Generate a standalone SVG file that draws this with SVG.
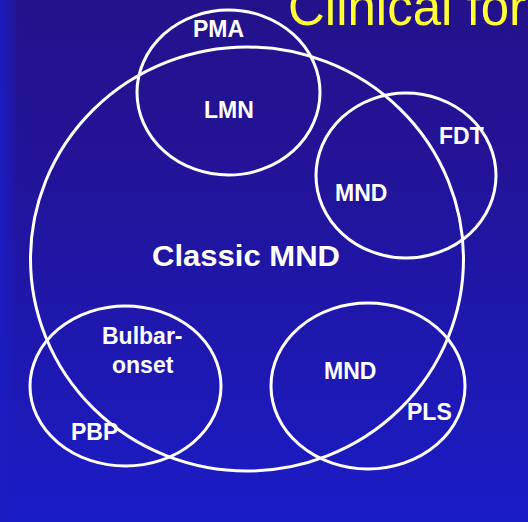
<svg xmlns="http://www.w3.org/2000/svg" width="528" height="522" viewBox="0 0 528 522">
<defs>
<linearGradient id="bg" x1="0" y1="0" x2="0" y2="1">
<stop offset="0" stop-color="#23128a"/>
<stop offset="0.35" stop-color="#22149a"/>
<stop offset="1" stop-color="#1a1cc6"/>
</linearGradient>
<linearGradient id="edge" x1="0" y1="0" x2="1" y2="0">
<stop offset="0" stop-color="#1c1cc0" stop-opacity="1"/>
<stop offset="0.5" stop-color="#1c1cc0" stop-opacity="0.6"/>
<stop offset="1" stop-color="#1c1cc0" stop-opacity="0"/>
</linearGradient>
<style>
.c{fill:none;stroke:#ffffff;stroke-width:3}
.t{fill:#ffffff;font-family:"Liberation Sans",Arial,sans-serif;font-weight:bold;font-size:23px}
.title{fill:#ffff33;font-family:"Liberation Sans",Arial,sans-serif;font-size:51px}
</style>
</defs>
<rect width="528" height="522" fill="url(#bg)"/>
<rect width="18" height="522" fill="url(#edge)"/>
<text class="title" x="288" y="25">Clinical for</text>
<g id="connectors"></g>
<g id="classic"><ellipse class="c" cx="247" cy="259" rx="216.5" ry="212"/><text class="t" x="152" y="266" style="font-size:29px" textLength="188" lengthAdjust="spacingAndGlyphs">Classic MND</text></g>
<g id="pma"><ellipse class="c" cx="228.5" cy="92.5" rx="91.5" ry="82.5"/><text class="t" x="193" y="37">PMA</text><text class="t" x="204" y="118">LMN</text></g>
<g id="fdt"><ellipse class="c" cx="406" cy="175.5" rx="90" ry="82.5"/><text class="t" x="439" y="144">FDT</text><text class="t" x="335" y="201">MND</text></g>
<g id="bulbar"><ellipse class="c" cx="125.5" cy="386" rx="95.5" ry="80"/><text class="t" x="102" y="344">Bulbar-</text><text class="t" x="112" y="373">onset</text><text class="t" x="71" y="440">PBP</text></g>
<g id="pls"><ellipse class="c" cx="368" cy="386" rx="97" ry="83"/><text class="t" x="324" y="379">MND</text><text class="t" x="407" y="420">PLS</text></g>
</svg>
